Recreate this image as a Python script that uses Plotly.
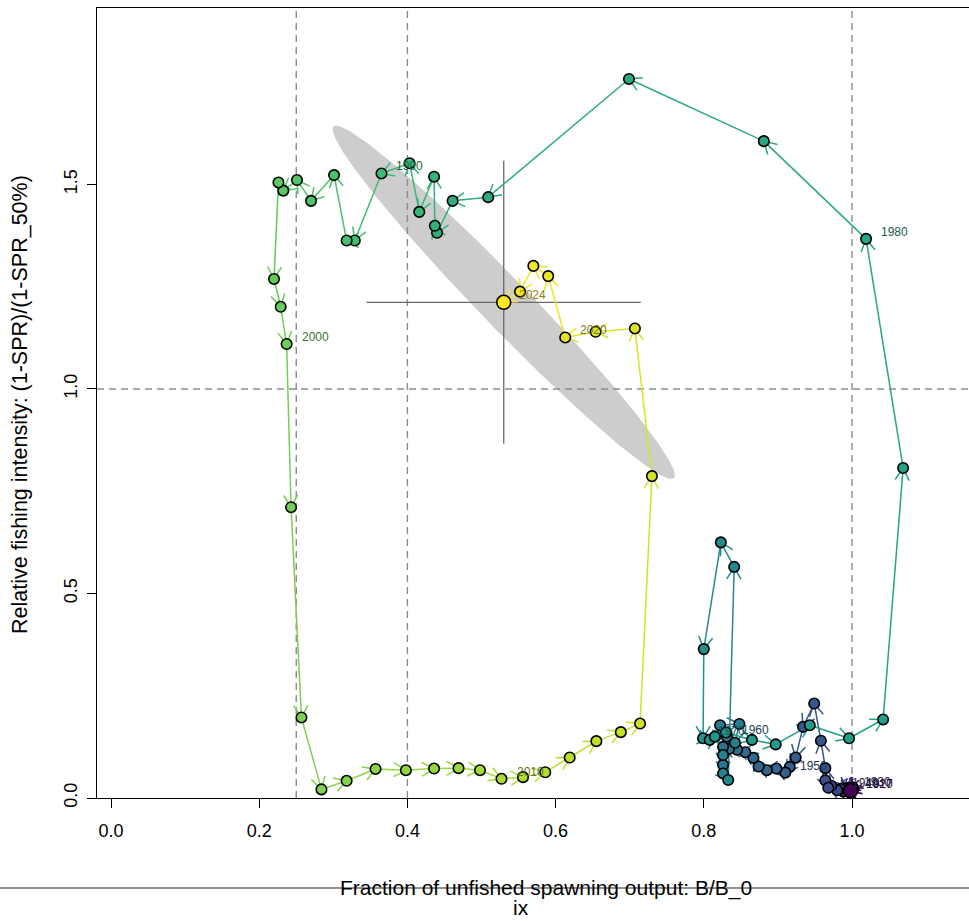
import numpy as np
import plotly.graph_objects as go
from plotly.colors import sample_colorscale

# ---------------- data ----------------
years = list(range(1917, 2025))
b_ratio = [
    0.998, 1.000, 0.997, 0.999, 1.002, 0.996, 1.001, 0.998, 0.995, 1.000,   # 1917-1926
    0.997, 0.994, 0.999, 0.996, 0.993, 0.995, 0.991, 0.994, 0.990, 0.992,   # 1927-1936
    0.987, 0.988, 0.984, 0.980, 0.972, 0.964, 0.968, 0.964, 0.958, 0.949,   # 1937-1946
    0.934, 0.924, 0.916, 0.910, 0.898, 0.885, 0.874, 0.867, 0.856, 0.845,   # 1947-1956
    0.834, 0.826, 0.826, 0.831, 0.822, 0.848, 0.842, 0.826, 0.826, 0.833,   # 1957-1966
    0.841, 0.823, 0.800, 0.799, 0.808, 0.815, 0.830, 0.865, 0.897, 0.943,   # 1967-1976
    0.996, 1.042, 1.069, 1.019, 0.881, 0.699, 0.509, 0.461, 0.440, 0.437,   # 1977-1986
    0.436, 0.416, 0.403, 0.365, 0.329, 0.318, 0.301, 0.270, 0.251, 0.2325,  # 1987-1996
    0.226, 0.220, 0.229, 0.237, 0.243, 0.257, 0.284, 0.318, 0.357, 0.398,   # 1997-2006
    0.436, 0.469, 0.498, 0.527, 0.556, 0.586, 0.619, 0.655, 0.688, 0.714,   # 2007-2016
    0.730, 0.707, 0.654, 0.613, 0.590, 0.570, 0.552, 0.530,                 # 2017-2024
]
f_ratio = [
    0.018, 0.021, 0.024, 0.017, 0.022, 0.019, 0.026, 0.015, 0.021, 0.024,
    0.018, 0.022, 0.020, 0.023, 0.018, 0.025, 0.020, 0.016, 0.022, 0.019,
    0.024, 0.016, 0.022, 0.019, 0.030, 0.043, 0.025, 0.073, 0.140, 0.231,
    0.174, 0.099, 0.076, 0.062, 0.072, 0.068, 0.077, 0.098, 0.112, 0.118,
    0.120, 0.125, 0.081, 0.150, 0.178, 0.181, 0.135, 0.105, 0.060, 0.044,
    0.565, 0.625, 0.364, 0.146, 0.142, 0.150, 0.160, 0.142, 0.131, 0.178,
    0.146, 0.192, 0.807, 1.367, 1.606, 1.758, 1.469, 1.460, 1.382, 1.399,
    1.519, 1.433, 1.552, 1.527, 1.363, 1.363, 1.523, 1.460, 1.511, 1.485,
    1.505, 1.269, 1.201, 1.110, 0.711, 0.197, 0.021, 0.042, 0.071, 0.068,
    0.072, 0.073, 0.068, 0.047, 0.051, 0.063, 0.099, 0.139, 0.161, 0.182,
    0.787, 1.148, 1.140, 1.126, 1.276, 1.301, 1.238, 1.212,
]
label_years = [1917, 1920, 1930, 1940, 1950, 1960, 1970, 1980, 1990, 2000, 2010, 2020, 2024]
x_ticks = [0.0, 0.2, 0.4, 0.6, 0.8, 1.0]
y_ticks = [0.0, 0.5, 1.0, 1.5]
ref_x_lines = [0.25, 0.4, 1.0]
ref_y_lines = [1.0]
final_sd_b = 0.0944
final_sd_f = 0.1765
final_corr = -0.98
chi2_95_2df = 5.991
z_95 = 1.96

assert len(years) == len(b_ratio) == len(f_ratio)

# ---------------- geometry ----------------
W, H = 969, 921
ML, MR, MT, MB = 97, 0, 8, 123
XR = [-0.0189, 1.1579]
YR = [0.0, 1.9315]
PW = W - ML - MR
PH = H - MT - MB
FONT = "Arial, Liberation Sans, sans-serif"


def to_px(x, y):
    return (ML + (x - XR[0]) / (XR[1] - XR[0]) * PW,
            MT + (YR[1] - y) / (YR[1] - YR[0]) * PH)


def to_data(px, py):
    return (XR[0] + (px - ML) / PW * (XR[1] - XR[0]),
            YR[1] - (py - MT) / PH * (YR[1] - YR[0]))


n = len(years)
frac = [(y - years[0]) / (years[-1] - years[0]) for y in years]
cols = sample_colorscale("Viridis", frac)


def darker(c, k=0.55):
    v = [float(s) for s in c[c.index("(") + 1:c.index(")")].split(",")]
    return "rgb(%d,%d,%d)" % tuple(int(round(t * k)) for t in v[:3])


fig = go.Figure()

# confidence ellipse for final year
t = np.linspace(0, 2 * np.pi, 240)
k = np.sqrt(chi2_95_2df)
mx, my = b_ratio[-1], f_ratio[-1]
ex = mx + k * final_sd_b * np.cos(t)
ey = my + k * final_sd_f * (final_corr * np.cos(t) + np.sqrt(1 - final_corr ** 2) * np.sin(t))
fig.add_trace(go.Scatter(x=ex, y=ey, mode="lines", fill="toself", fillcolor="#cdcdcd",
                         line=dict(width=0, color="#cdcdcd"), hoverinfo="skip", showlegend=False))

# reference dashed lines
for xv in ref_x_lines:
    fig.add_trace(go.Scatter(x=[xv, xv], y=[YR[0], YR[1]], mode="lines",
                             line=dict(color="#8c8c8c", width=1.4, dash="7px,5px"),
                             hoverinfo="skip", showlegend=False))
for yv in ref_y_lines:
    fig.add_trace(go.Scatter(x=[XR[0], XR[1]], y=[yv, yv], mode="lines",
                             line=dict(color="#8c8c8c", width=1.4, dash="7px,5px"),
                             hoverinfo="skip", showlegend=False))

# CI cross-hairs for final year
fig.add_trace(go.Scatter(x=[mx - z_95 * final_sd_b, mx + z_95 * final_sd_b, None, mx, mx],
                         y=[my, my, None, my - z_95 * final_sd_f, my + z_95 * final_sd_f],
                         mode="lines", line=dict(color="#6a6a6a", width=1.3),
                         hoverinfo="skip", showlegend=False))

# arrows between consecutive years
head_len = 14.0
ang = np.deg2rad(30)
for i in range(n - 1):
    p0 = to_px(b_ratio[i], f_ratio[i])
    p1 = to_px(b_ratio[i + 1], f_ratio[i + 1])
    dx, dy = p1[0] - p0[0], p1[1] - p0[1]
    L = np.hypot(dx, dy)
    xs = [b_ratio[i], b_ratio[i + 1]]
    ys = [f_ratio[i], f_ratio[i + 1]]
    if L > 0:
        ux, uy = -dx / L, -dy / L
        hs = []
        for a in (ang, -ang):
            rx = ux * np.cos(a) - uy * np.sin(a)
            ry = ux * np.sin(a) + uy * np.cos(a)
            hs.append(to_data(p1[0] + head_len * rx, p1[1] + head_len * ry))
        xs += [None, hs[0][0], b_ratio[i + 1], hs[1][0]]
        ys += [None, hs[0][1], f_ratio[i + 1], hs[1][1]]
    fig.add_trace(go.Scatter(x=xs, y=ys, mode="lines",
                             line=dict(color=cols[i + 1], width=1.5),
                             hoverinfo="skip", showlegend=False))

# points
fig.add_trace(go.Scatter(x=b_ratio[1:-1], y=f_ratio[1:-1], mode="markers",
                         marker=dict(color=cols[1:-1], size=10.5, opacity=1,
                                     line=dict(color="black", width=1.6)),
                         text=[str(y) for y in years[1:-1]], hoverinfo="text", showlegend=False))
# first and last year emphasised
fig.add_trace(go.Scatter(x=[b_ratio[-1], b_ratio[0]], y=[f_ratio[-1], f_ratio[0]], mode="markers",
                         marker=dict(color=[cols[-1], cols[0]], size=14, opacity=1,
                                     line=dict(color="black", width=1.6)),
                         text=[str(years[-1]), str(years[0])], hoverinfo="text", showlegend=False))

# year labels
for yr in label_years:
    i = years.index(yr)
    fig.add_annotation(x=b_ratio[i], y=f_ratio[i], text=str(yr), showarrow=False,
                       xanchor="left", yanchor="middle", xshift=13, yshift=7,
                       font=dict(size=12, color=darker(cols[i]), family=FONT))

# bottom line, axis titles
yl = (MT + PH - 888) / PH
fig.add_shape(type="line", xref="paper", yref="paper",
              x0=-ML / PW, x1=1.0, y0=yl, y1=yl,
              line=dict(color="#6e6e6e", width=1.5), layer="above")
fig.add_annotation(xref="paper", yref="paper", x=(546 - ML) / PW, y=yl,
                   text="Fraction of unfished spawning output: B/B_0", showarrow=False,
                   xanchor="center", yanchor="middle",
                   font=dict(size=21, color="black", family=FONT))
fig.add_annotation(xref="paper", yref="paper", x=(521 - ML) / PW, y=(MT + PH - 907) / PH,
                   text="ix", showarrow=False, xanchor="center", yanchor="middle",
                   font=dict(size=21, color="black", family=FONT))
fig.add_annotation(xref="paper", yref="paper", x=(20 - ML) / PW, y=(MT + PH - 405) / PH,
                   text="Relative fishing intensity: (1-SPR)/(1-SPR_50%)", showarrow=False,
                   textangle=-90, xanchor="center", yanchor="middle",
                   font=dict(size=21.5, color="black", family=FONT))

axis_font = dict(size=18, color="black", family=FONT)
fig.update_layout(
    width=W, height=H,
    margin=dict(l=ML, r=MR, t=MT, b=MB, pad=0),
    paper_bgcolor="white", plot_bgcolor="white",
    showlegend=False,
    xaxis=dict(range=XR, tickvals=x_ticks, ticktext=["%.1f" % v for v in x_ticks],
               showgrid=False, zeroline=False, showline=True, linecolor="black", linewidth=1.3,
               mirror=True, ticks="outside", ticklen=9, tickwidth=1.3, tickcolor="black",
               tickfont=axis_font, ticklabelstandoff=7),
    yaxis=dict(range=YR, tickvals=y_ticks, ticktext=["%.1f" % v for v in y_ticks],
               showgrid=False, zeroline=False, showline=True, linecolor="black", linewidth=1.3,
               mirror=False, ticks="outside", ticklen=9, tickwidth=1.3, tickcolor="black",
               tickfont=axis_font, tickangle=-90, ticklabelstandoff=3),
)

fig.write_html("out.html", config={"displayModeBar": False})
# remove the browser's default page margin so the figure sits at the window origin
with open("out.html", encoding="utf-8") as fh:
    html = fh.read()
html = html.replace("<head>", "<head><style>html,body{margin:0;padding:0;overflow:hidden;}</style>", 1)
with open("out.html", "w", encoding="utf-8") as fh:
    fh.write(html)
